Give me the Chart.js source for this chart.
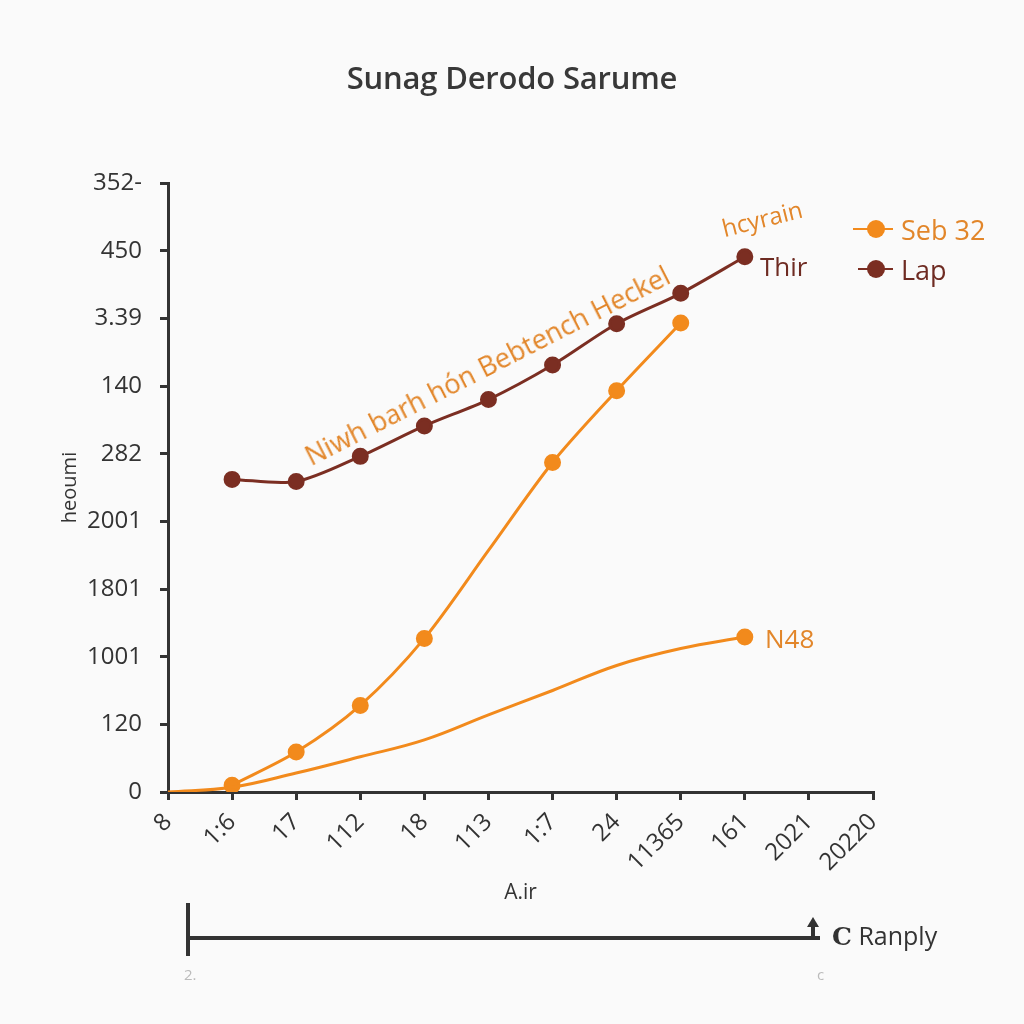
<!DOCTYPE html>
<html>
<head>
<meta charset="utf-8">
<script src="https://cdn.jsdelivr.net/npm/chart.js@4.4.1/dist/chart.umd.min.js"></script>
<style>
  html, body { margin: 0; padding: 0; background: #fafafa; }
  #wrap { position: relative; width: 1024px; height: 1024px; font-family: 'Open Sans', sans-serif; }
  #wrap canvas { position: absolute; left: 0; top: 0; }
  .txt { position: absolute; white-space: nowrap; }
  .title { left: 0; width: 1024px; top: 56px; text-align: center; font-size: 31px; font-weight: 600; color: #383838; letter-spacing: -0.2px; }
  .orange { color: #e2862a; }
  .brown { color: #6e2b22; }
  .bar { position: absolute; background: #333; }
  .lg-line { position: absolute; height: 2px; }
  .lg-dot { position: absolute; width: 18px; height: 18px; border-radius: 50%; }
</style>
</head>
<body>
<div id="wrap">
  <canvas id="grafica" width="1024" height="1024"></canvas>
  <div class="txt title">Sunag Derodo Sarume</div>

  <div class="txt orange" style="left:487px;top:365px;font-size:27px;transform:translate(-50%,-50%) rotate(-27deg)">Niwh barh hón Bebtench Heckel</div>
  <div class="txt orange" style="left:762px;top:218px;font-size:24px;transform:translate(-50%,-50%) rotate(-14deg)">hcyrain</div>
  <div class="txt brown" style="left:760px;top:248px;font-size:26px">Thir</div>
  <div class="txt orange" style="left:765px;top:620px;font-size:26px">N48</div>

  <!-- leyenda -->
  <div class="lg-line" style="left:853px;top:228px;width:40px;background:#f28a1c"></div>
  <div class="lg-dot" style="left:867px;top:220px;background:#f28a1c"></div>
  <div class="txt orange" style="left:901px;top:211px;font-size:27px">Seb 32</div>
  <div class="lg-line" style="left:858px;top:268px;width:35px;background:#7b2e22"></div>
  <div class="lg-dot" style="left:867px;top:260px;background:#7b2e22"></div>
  <div class="txt brown" style="left:901px;top:251px;font-size:27px">Lap</div>

  <!-- barra inferior -->
  <div class="bar" style="left:186px;top:903px;width:4px;height:53px"></div>
  <div class="bar" style="left:186px;top:936px;width:634px;height:4px"></div>
  <div class="bar" style="left:811px;top:926px;width:4px;height:12px"></div>
  <div class="txt" style="left:807px;top:917px;width:0;height:0;border-left:6px solid transparent;border-right:6px solid transparent;border-bottom:10px solid #333"></div>
  <div class="txt" style="left:832px;top:918px;font-size:25px;color:#333"><b style="font-family:'DejaVu Serif',serif">C</b> Ranply</div>
  <div class="txt" style="left:184px;top:964px;font-size:15px;color:#bbb">2.</div>
  <div class="txt" style="left:817px;top:964px;font-size:15px;color:#bbb">c</div>
</div>
<script>
const xLabels = ['8', '1:6', '17', '112', '18', '113', '1:7', '24', '11365', '161', '2021', '20220']
const yLabels = ['0', '120', '1001', '1801', '2001', '282', '140', '3.39', '450', '352-']

const seb32 = [null, 0.10, 0.59, 1.28, 2.27, 3.57, 4.87, 5.93, 6.93, null, null, null]
const lap = [null, 4.62, 4.59, 4.96, 5.41, 5.80, 6.31, 6.92, 7.37, 7.91, null, null]
const n48 = [0, 0.07, 0.28, 0.52, 0.77, 1.14, 1.50, 1.87, 2.12, 2.29, null, null]

const naranja = '#f28a1c'
const cafe = '#7b2e22'
const eje = '#333333'

const fuente = { family: "'Open Sans', sans-serif", size: 24 }

new Chart(document.getElementById('grafica'), {
  type: 'line',
  data: {
    labels: xLabels,
    datasets: [
      {
        label: 'N48',
        data: n48,
        borderColor: naranja,
        backgroundColor: naranja,
        borderWidth: 3,
        tension: 0.4,
        pointRadius: n48.map((v, i) => i === 9 ? 7 : 0)
      },
      {
        label: 'Seb 32',
        data: seb32,
        borderColor: naranja,
        backgroundColor: naranja,
        borderWidth: 3,
        tension: 0.3,
        pointRadius: seb32.map((v, i) => i === 5 ? 0 : 7)
      },
      {
        label: 'Lap',
        data: lap,
        borderColor: cafe,
        backgroundColor: cafe,
        borderWidth: 3,
        tension: 0.3,
        pointRadius: 7
      }
    ]
  },
  options: {
    responsive: false,
    animation: false,
    layout: { padding: { left: 0, right: 151, top: 183, bottom: 112 } },
    plugins: { legend: { display: false }, tooltip: { enabled: false } },
    scales: {
      x: {
        offset: false,
        afterFit: (s) => { s.height = 120 },
        border: { display: true, color: eje, width: 3 },
        grid: { display: true, drawOnChartArea: false, drawTicks: true, tickLength: 8, color: eje, lineWidth: 3 },
        ticks: { color: eje, font: fuente, minRotation: 45, maxRotation: 45, padding: 8, autoSkip: false },
        title: { display: true, text: 'A.ir', color: eje, font: { family: fuente.family, size: 21 }, padding: { bottom: 6 } }
      },
      y: {
        min: 0,
        max: 9,
        afterFit: (s) => { s.width = 168 },
        border: { display: true, color: eje, width: 3 },
        grid: { display: true, drawOnChartArea: false, drawTicks: true, tickLength: 8, color: eje, lineWidth: 3 },
        ticks: { stepSize: 1, color: eje, font: fuente, padding: 18, callback: (v) => yLabels[v] },
        title: { display: true, text: 'heoumi', color: eje, font: { family: fuente.family, size: 20 }, padding: { top: 58 } }
      }
    }
  }
})
</script>
</body>
</html>
